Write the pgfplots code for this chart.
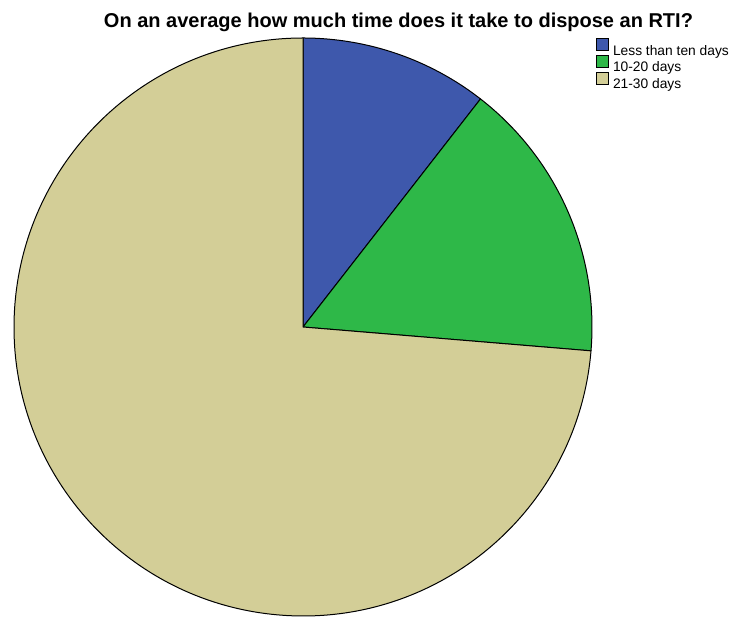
\documentclass[border=0pt]{standalone}
\usepackage{pgfplots}
\usepackage{pgfplotstable}
\pgfplotsset{compat=1.18}
\usepackage{fontspec}
\setmainfont{Liberation Sans}
\definecolor{cA}{HTML}{3E58AC}
\definecolor{cB}{HTML}{2EB848}
\definecolor{cC}{HTML}{D3CE97}
\pgfplotstableread{
label value
A 2
B 3
C 14
}\piedata
\begin{document}
\begin{tikzpicture}
\pgfplotstablegetelem{0}{value}\of\piedata \let\va\pgfplotsretval
\pgfplotstablegetelem{1}{value}\of\piedata \let\vb\pgfplotsretval
\pgfplotstablegetelem{2}{value}\of\piedata \let\vc\pgfplotsretval
\pgfmathsetmacro{\tot}{\va+\vb+\vc}
\pgfmathsetmacro{\aA}{90-360*\va/\tot}
\pgfmathsetmacro{\aB}{\aA-360*\vb/\tot}
\pgfmathsetmacro{\aC}{\aB-360*\vc/\tot}
\begin{axis}[x=1pt,y=1pt,xmin=0,xmax=731,ymin=0,ymax=617,
  hide axis, clip=false,
  legend cell align=left,
  legend style={at={(axis cs:596,579)},anchor=north west,draw=none,fill=none,
    font=\fontsize{13.8}{13.8}\selectfont,row sep=-3.5pt,inner sep=0pt,
    nodes={inner sep=0pt,text height=12.5pt,text depth=3.5pt},
    /tikz/every odd column/.append style={column sep=4pt}},
  legend image code/.code={\draw[#1,line width=0.8pt] (0pt,0pt) rectangle (12pt,12pt);}]
\path (axis cs:0,0) rectangle (axis cs:731,617);
\filldraw[fill=cA,draw=black,line width=1pt,line join=round] (axis cs:303,290) -- ++(90:289pt) arc[start angle=90,end angle=\aA,radius=289pt] -- cycle;
\filldraw[fill=cB,draw=black,line width=1pt,line join=round] (axis cs:303,290) -- ++(\aA:289pt) arc[start angle=\aA,end angle=\aB,radius=289pt] -- cycle;
\filldraw[fill=cC,draw=black,line width=1pt,line join=round] (axis cs:303,290) -- ++(\aB:289pt) arc[start angle=\aB,end angle=\aC,radius=289pt] -- cycle;
\addlegendimage{fill=cA,draw=black}
\addlegendentry{Less than ten days}
\addlegendimage{fill=cB,draw=black}
\addlegendentry{10-20 days}
\addlegendimage{fill=cC,draw=black}
\addlegendentry{21-30 days}
\node[font=\fontsize{20}{20}\selectfont\bfseries,anchor=base] at (axis cs:398.5,589) {On an average how much time does it take to dispose an RTI?};
\end{axis}
\end{tikzpicture}
\end{document}
